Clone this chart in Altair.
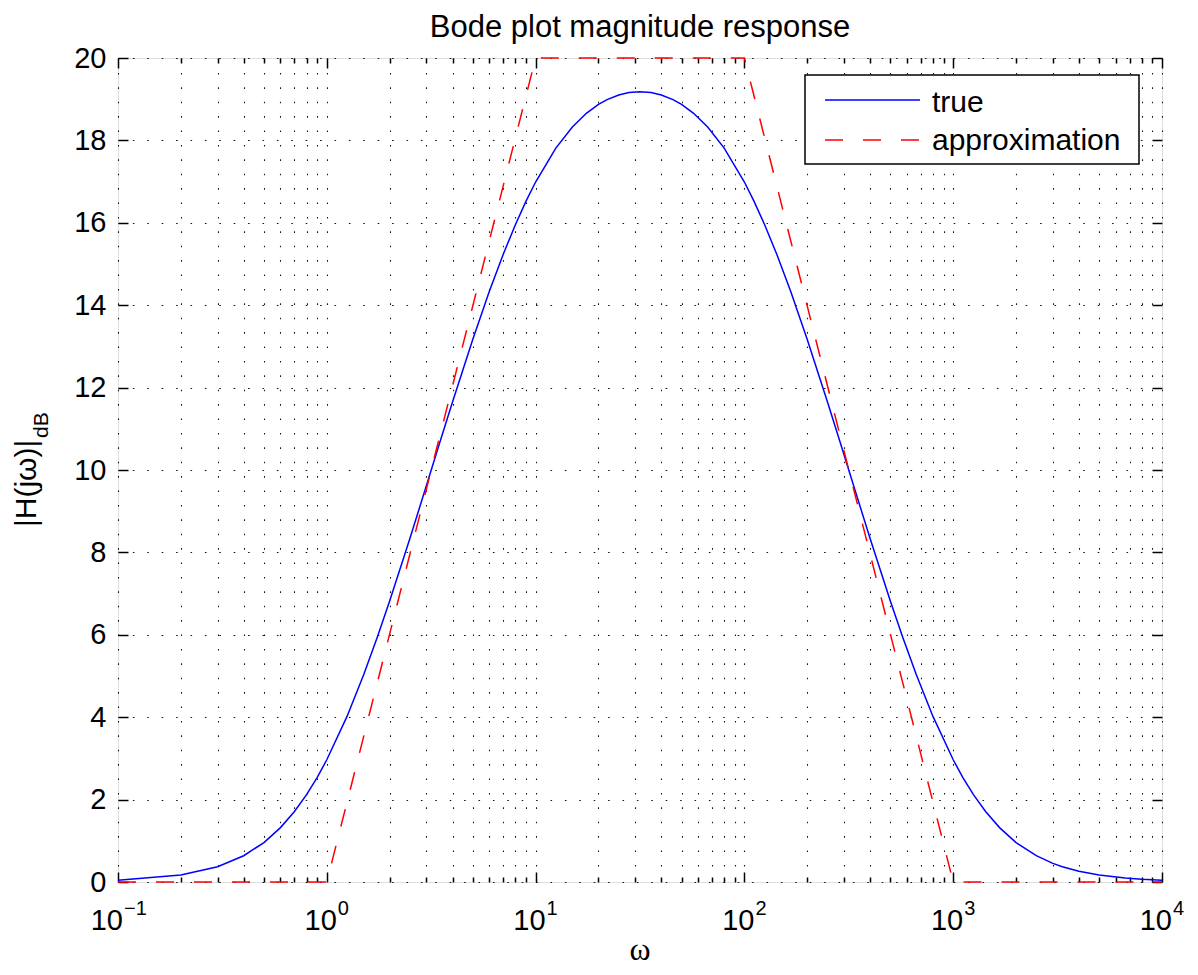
import altair as alt
import pandas as pd

# ---------------- data ----------------
omega_true = [0.1, 0.2, 0.3, 0.4, 0.5, 0.6, 0.7, 0.8, 0.9, 1.0,
              1.25, 1.5, 1.75, 2.0, 2.5, 3.0, 3.5, 4.0, 5.0, 6.0, 7.0, 8.0, 9.0,
              10.0, 12.5, 15.0, 17.5, 20.0, 22.0, 25.0, 28.0, 31.6, 35.7, 40.0, 45.5, 50.0,
              57.1, 66.7, 80.0, 100.0, 111.1, 125.0, 142.9, 166.7, 200.0, 250.0, 285.7,
              333.3, 400.0, 500.0, 571.4, 666.7, 800.0, 1000.0, 1111.0, 1250.0, 1429.0,
              1667.0, 2000.0, 2500.0, 3000.0, 3333.0, 4000.0, 5000.0,
              6667.0, 8000.0, 10000.0]
mag_true_db = [0.043, 0.169, 0.370, 0.638, 0.958, 1.320, 1.710, 2.121, 2.542, 2.967,
               4.019, 5.022, 5.956, 6.818, 8.337, 9.622, 10.715, 11.652, 13.170, 14.331, 15.237, 15.953, 16.527,
               16.990, 17.812, 18.326, 18.657, 18.873, 18.990, 19.103, 19.160, 19.180, 19.160, 19.103, 18.990, 18.873,
               18.657, 18.326, 17.812, 16.990, 16.527, 15.953, 15.237, 14.331, 13.170, 11.652, 10.715,
               9.622, 8.337, 6.818, 5.956, 5.022, 4.019, 2.967, 2.542, 2.121, 1.710,
               1.320, 0.958, 0.638, 0.453, 0.370, 0.261, 0.169,
               0.096, 0.067, 0.043]

omega_approx = [0.1, 1.0, 10.0, 100.0, 1000.0, 10000.0]
mag_approx_db = [0, 0, 20, 20, 0, 0]

series_names = ["true", "approximation"]
chart_title = "Bode plot magnitude response"
x_title = "ω"
y_title_main = "|H(jω)|"
y_title_sub = "dB"

x_major_ticks = [0.1, 1, 10, 100, 1000, 10000]
x_tick_base = "10"
x_tick_exponents = ["\u22121", "0", "1", "2", "3", "4"]
x_minor_ticks = [round(m * d, 6) for d in [0.1, 1, 10, 100, 1000] for m in range(2, 10)]
y_ticks = [0, 2, 4, 6, 8, 10, 12, 14, 16, 18, 20]

# ---------------- layout ----------------
W, H = 1044, 824
FONT = "Liberation Sans"
GRID_DASH = [1.6, 12.8]

df_true = pd.DataFrame({"omega": omega_true, "mag": mag_true_db})
df_approx = pd.DataFrame({"omega": omega_approx, "mag": mag_approx_db})
df_xlab = pd.DataFrame({"tick": x_major_ticks, "exp": x_tick_exponents})
df_one = pd.DataFrame({"k": [0]})

x_scale = alt.Scale(type="log", domain=[0.1, 10000], nice=False)
y_scale = alt.Scale(domain=[0, 20], nice=False, zero=False)

X = lambda ax=None: alt.X("omega:Q", scale=x_scale, axis=ax)
Y = lambda ax=None: alt.Y("mag:Q", scale=y_scale, axis=ax)

# grid + y labels layer
grid_layer = alt.Chart(df_true).mark_point(opacity=0).encode(
    x=X(alt.Axis(orient="bottom", values=sorted(x_major_ticks + x_minor_ticks), grid=True,
                 gridDash=GRID_DASH, gridColor="black", gridWidth=1.1, gridOpacity=0.9,
                 labels=False, ticks=False, tickSize=0, domain=False, title=None)),
    y=Y(alt.Axis(orient="left", values=y_ticks, grid=True, gridDash=GRID_DASH,
                 gridColor="black", gridWidth=1.1, gridOpacity=0.9,
                 labels=True, labelFont=FONT, labelFontSize=29, labelColor="black",
                 labelPadding=12, labelOverlap=False, labelFlush=False,
                 ticks=False, tickSize=0, domain=False, title=None)),
)


def tick_layer(channel, orient, values, size):
    ax = alt.Axis(orient=orient, values=values, ticks=True, tickSize=size, tickWidth=1.5,
                  tickColor="black", offset=-size, labels=False, domain=False, grid=False,
                  title=None)
    if channel == "x":
        enc = dict(x=X(ax), y=Y(None))
    else:
        enc = dict(x=X(None), y=Y(ax))
    return alt.Chart(df_true).mark_point(opacity=0).encode(**enc)


tick_layers = [
    tick_layer("x", "bottom", x_major_ticks, 10),
    tick_layer("x", "bottom", x_minor_ticks, 5),
    tick_layer("x", "top", x_major_ticks, 10),
    tick_layer("x", "top", x_minor_ticks, 5),
    tick_layer("y", "left", y_ticks, 10),
    tick_layer("y", "right", y_ticks, 10),
]

true_line = alt.Chart(df_true).mark_line(color="#0000ff", strokeWidth=1.5).encode(x=X(), y=Y())
approx_line = alt.Chart(df_approx).mark_line(
    color="#ff0000", strokeWidth=1.5, strokeDash=[18, 20]).encode(x=X(), y=Y())

# x tick labels: "10" with superscript exponent
xt = alt.X("tick:Q", scale=x_scale, axis=None)
lab_neg = alt.Chart(df_xlab).transform_filter("datum.tick < 1")
lab_pos = alt.Chart(df_xlab).transform_filter("datum.tick >= 1")
base_neg = lab_neg.mark_text(text=x_tick_base, align="right", baseline="alphabetic",
                             font=FONT, fontSize=29, color="black", dx=5).encode(x=xt, y=alt.value(H + 48))
base_pos = lab_pos.mark_text(text=x_tick_base, align="right", baseline="alphabetic",
                             font=FONT, fontSize=29, color="black", dx=10).encode(x=xt, y=alt.value(H + 48))
exp_neg = lab_neg.mark_text(align="left", baseline="alphabetic", font=FONT, fontSize=20,
                            color="black", dx=6).encode(x=xt, y=alt.value(H + 33), text="exp:N")
exp_pos = lab_pos.mark_text(align="left", baseline="alphabetic", font=FONT, fontSize=20,
                            color="black", dx=11).encode(x=xt, y=alt.value(H + 33), text="exp:N")

# titles
title_mark = alt.Chart(df_one).mark_text(text=chart_title, align="center", baseline="alphabetic",
                                         font=FONT, fontSize=31, color="black").encode(
    x=alt.value(W / 2), y=alt.value(-21))
xtitle_mark = alt.Chart(df_one).mark_text(text=x_title, align="center", baseline="alphabetic",
                                          font="Liberation Serif", fontSize=32, color="black").encode(
    x=alt.value(W / 2), y=alt.value(H + 78))
ytitle_main = alt.Chart(df_one).mark_text(text=y_title_main, align="left", baseline="alphabetic",
                                          angle=270, font=FONT, fontSize=30, color="black").encode(
    x=alt.value(-82), y=alt.value(469))
ytitle_sub = alt.Chart(df_one).mark_text(text=y_title_sub, align="left", baseline="alphabetic",
                                         angle=270, font=FONT, fontSize=21, color="black").encode(
    x=alt.value(-70), y=alt.value(380))

# legend box
leg_box = alt.Chart(df_one).mark_rect(fill="white", stroke="black", strokeWidth=1.5).encode(
    x=alt.value(687), x2=alt.value(1021), y=alt.value(17), y2=alt.value(106))
leg_true = alt.Chart(df_one).mark_rule(color="#0000ff", strokeWidth=1.5).encode(
    x=alt.value(707), x2=alt.value(802), y=alt.value(42))
leg_approx = alt.Chart(df_one).mark_rule(color="#ff0000", strokeWidth=1.5, strokeDash=[18, 20]).encode(
    x=alt.value(707), x2=alt.value(802), y=alt.value(82))
leg_t1 = alt.Chart(df_one).mark_text(text=series_names[0], align="left", baseline="alphabetic",
                                     font=FONT, fontSize=30, color="black").encode(
    x=alt.value(814), y=alt.value(54))
leg_t2 = alt.Chart(df_one).mark_text(text=series_names[1], align="left", baseline="alphabetic",
                                     font=FONT, fontSize=30, color="black").encode(
    x=alt.value(814), y=alt.value(92))

chart = alt.layer(
    grid_layer, *tick_layers, true_line, approx_line,
    base_neg, base_pos, exp_neg, exp_pos,
    title_mark, xtitle_mark, ytitle_main, ytitle_sub,
    leg_box, leg_true, leg_approx, leg_t1, leg_t2,
).resolve_axis(x="independent", y="independent").properties(
    width=W, height=H,
    autosize=alt.AutoSizeParams(type="none"),
    padding={"left": 110, "top": 50, "right": 28, "bottom": 85},
).configure_view(stroke="black", strokeWidth=1.5).configure(background="white")

chart.save("out.html", embed_options={"renderer": "svg", "actions": False})
